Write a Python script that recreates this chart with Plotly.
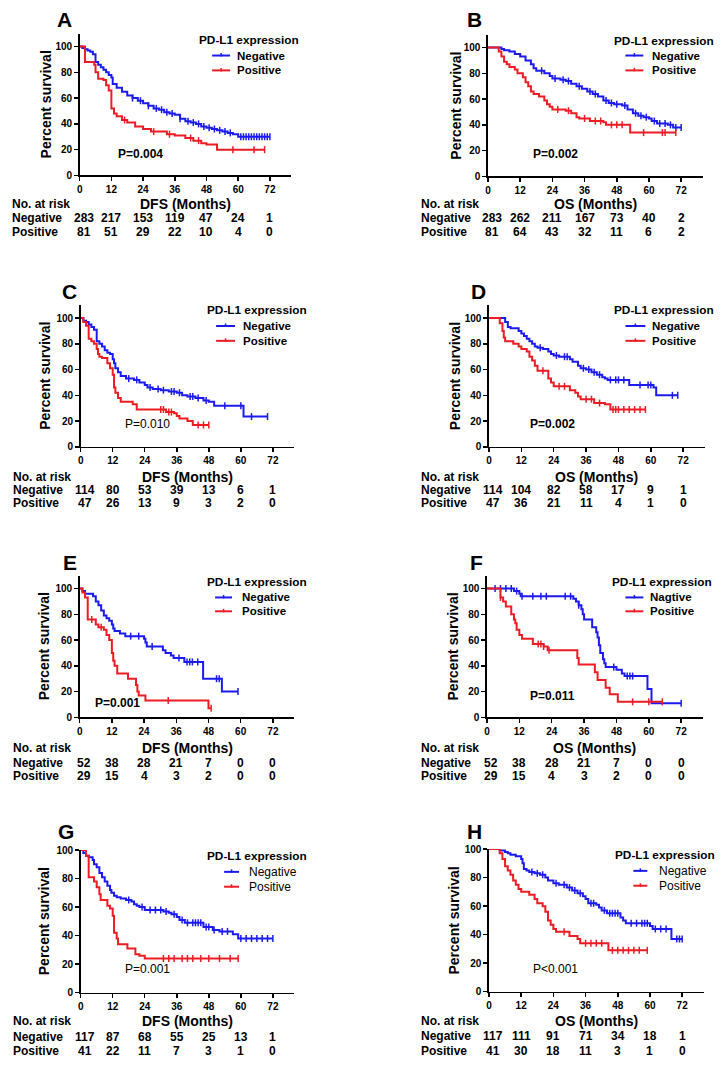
import plotly.graph_objects as go

W, H = 723, 1074
FONT = "Liberation Sans, Arial, Helvetica, sans-serif"
BLUE = "#1b1bf0"
RED = "#ec1c24"

# ---------------- DATA ----------------
months = [0, 12, 24, 36, 48, 60, 72]
pct_ticks = [0, 20, 40, 60, 80, 100]

# Panel A (DFS)
A_neg_t = [0,1,2,3,4,5,6,7,8,9,10,11,12,12.5,14,16,18,20,22,24,26,28,30,32,34,36,38,40,42,44,46,48,50,52,54,56,58,60,72]
A_neg_s = [100,99,98,97,96,94,88,86,84,82,80,78,76,71,68,65,62,60,58,56,54,52,51,49,48,47,44,42,41,40,38,37,36,35,34,33,32,30,30]
A_neg_c = [20,23,26,29,31,33,35,38,41,43,45,47,49,51,53,55,57,61,62,63,64,65,66,67,68,69,70,71,72]
A_pos_t = [0,2,5.5,6,7,9,10,11,12,13,14,16,18,21,24,27,33,36,40,43,46,48,52,70]
A_pos_s = [100,88,86,80,75,74,70,66,52,48,46,43,41,38,36,34,32,31,29,27,25,24,20,20]
A_pos_c = [17,28,34,42,45,58,66,70]
A_risk_neg = [283,217,153,119,47,24,1]
A_risk_pos = [81,51,29,22,10,4,0]

# Panel B (OS)
B_neg_t = [0,5,6,8,10,12,14,16,17,18,21,23,24,27,29,31,33,35,37,39,41,43,45,47,50,52,54,56,58,60,61,63,67,69,72]
B_neg_s = [100,99,98,97,95,93,90,87,84,82,80,78,76,75,74,72,70,68,66,64,62,59,57,56,55,52,49,47,46,45,43,41,40,38,38]
B_neg_c = [20,25,28,30,34,38,40,44,46,48,51,55,57,59,62,64,66,68,70,72]
B_pos_t = [0,4,5,6,7,8,10,11,13,14,15,16,17,19,21,22,23,24,29,31,33,34,38,43,44,53,70]
B_pos_s = [100,97,93,89,87,85,83,80,77,73,70,66,64,62,59,56,54,52,51,49,46,45,43,42,40,34,34]
B_pos_c = [26,30,36,40,42,46,48,50,58,65,66,70]
B_risk_neg = [283,262,211,167,73,40,2]
B_risk_pos = [81,64,43,32,11,6,2]

# Panel C (DFS)
C_neg_t = [0,1,2,3,4,5,6,7,8,9,10,11,12,12.5,13,14,15,17,20,22,24,25,27,30,33,36,38,40,43,46,48,50,61,70]
C_neg_s = [100,98,97,95,93,91,82,80,78,75,73,72,68,65,61,58,55,53,52,50,48,46,45,44,43,42,40,39,38,36,35,32,23.5,23.5]
C_neg_c = [18,21,26,29,31,34,35,37,41,42,44,47,54,60,64,70]
C_pos_t = [0,1,2,3,4,5,6,6.5,7,8,10,11,12,12.5,13,14,15,19.5,21,32,35,36,37,40,42,48]
C_pos_s = [100,97,94,84,82,80,76,72,70,69,65,61,56,46,42,38,35,33,29,27,26,24,22,20,17,17]
C_pos_c = [30,31,33,34,44,46,48]
C_risk_neg = [114,80,53,39,13,6,1]
C_risk_pos = [47,26,13,9,3,2,0]

# Panel D (OS)
D_neg_t = [0,6,7,8,11,12,13,14,15,16,17,18,20,22,23,24,26,30,31,33,34,36,38,40,42,43,44,52,61,62,70]
D_neg_s = [100,97,93,92,90,88,86,84,82,80,78,77,76,74,72,71,70,68,66,63,61,60,58,56,54,53,52,48,46,40,40]
D_neg_c = [19,25,28,29,35,37,39,41,45,47,48,50,56,59,60,68,70]
D_pos_t = [0,4,5,5.5,6,9,11,12,14,15,16,17,18,22,23,24,30,32,33,34,39,43,45,58]
D_pos_s = [100,96,90,85,82,80,78,76,74,70,67,63,59,53,50,47,44,42,39,37,34,33,29,29]
D_pos_c = [20,26,28,36,38,41,46,47,48,50,52,54,56,58]
D_risk_neg = [114,104,82,58,17,9,1]
D_risk_pos = [47,36,21,11,4,1,0]

# Panel E (DFS)
E_neg_t = [0,1,2,5,6,7,8,9,10,11,12,12.5,13,15,17,24,24.5,25,31,32,34,35,39,46,53,59]
E_neg_s = [100,98,96,94,90,87,83,79,77,75,72,69,67,65,63,61,58,55,52,50,48,46,43,30,20,20]
E_neg_c = [19,22,27,37,40,41,42,44,51,52,59]
E_pos_t = [0,1,2,3,6,7,9,10,11,12,12.5,13,14,18,21,21.5,22,24.5,48,49]
E_pos_s = [100,97,93,76,72,70,68,64,60,50,44,40,34,30,25,20,17,13,7,7]
E_pos_c = [4.5,8,33,49]
E_risk_neg = [52,38,28,21,7,0,0]
E_risk_pos = [29,15,4,3,2,0,0]

# Panel F (OS)
F_neg_t = [0,10,12,12.5,32,33,34,35,35.5,36,39,40.5,41,41.5,42,43,43.5,44,48,50,51,59.5,61,72]
F_neg_s = [100,98,96,94,92,90,87,84,80,76,70,66,62,56,50,45,42,39,37,34,32,22,11,11]
F_neg_c = [3,5,7,9,11,13,17,20,22,29,31,34,47,52,53,54,72]
F_pos_t = [0,5,6,7,9,10,10.5,11,12,13,17,21,22.5,33.5,34,40,41,44,45.5,48.5,65]
F_pos_s = [100,93,90,86,80,76,73,68,64,61,57,55,52,46,41,35,29,23,18,12,12]
F_pos_c = [5,19,20,21,23,54,60,65]
F_risk_neg = [52,38,28,21,7,0,0]
F_risk_pos = [29,15,4,3,2,0,0]

# Panel G (DFS)
G_neg_t = [0,1,2,3,4.5,5,6,7,8,9,10,11,11.5,12.5,13.5,15,17,19,20,21,22,24,31,33,34,36,37,39,46,49.5,52,57,59,72]
G_neg_s = [100,98,96,95,93,90,88,84,81,78,75,72,70,68,67,66,65,64,62,61,60,58,57,56,55,53,51,49,46,44,43,41,38,38]
G_neg_c = [18,23,26,28,30,32,35,38,40,42,43,44,45,47,48,50,53,55,60,62,64,66,68,70,72]
G_pos_t = [0,2,3,5,6,7,7.5,10,11,12,12.5,13.5,14,17.5,20.5,22,24,59]
G_pos_s = [100,96,81,78,74,69,65,61,59,54,42,38,34,31,27,26,24,24]
G_pos_c = [31,33,35,38,40,42,45,48,52,56,59]
G_risk_neg = [117,87,68,55,25,13,1]
G_risk_pos = [41,22,11,7,3,1,0]

# Panel H (OS)
H_neg_t = [0,4,6,7,8,10,12,12.5,13,14,15,17,19,21,22,24,26,29,31,33,35,36,37,40,41,42,44,49,50,51,60,61,68,72]
H_neg_s = [100,99,98,97,96,95,93,90,86,85,84,83,82,80,78,76,75,73,71,69,67,65,62,61,59,57,55,52,50,48,46,44,37,37]
H_neg_c = [16,18,20,25,28,30,32,34,38,39,43,45,46,47,48,53,55,57,58,59,62,64,66,70,71,72]
H_pos_t = [0,4,5,6,7,8,9,10,11,12,15,17,18,20,21,22,23,24,25,30,33,34,44.5,59]
H_pos_s = [100,97,93,88,85,82,78,75,72,70,68,65,62,60,56,50,47,44,42,39,37,34,29,29]
H_pos_c = [28,36,38,40,42,46,48,50,52,54,56,59]
H_risk_neg = [117,111,91,71,34,18,1]
H_risk_pos = [41,30,18,11,3,1,0]

letters = ["A", "B", "C", "D", "E", "F", "G", "H"]
x_titles = ["DFS (Months)", "OS (Months)"] * 4
p_texts = ["P=0.004", "P=0.002", "P=0.010", "P=0.002", "P=0.001", "P=0.011", "P=0.001", "P<0.001"]
legend_title = "PD-L1 expression"
legend_labels = [["Negative", "Positive"]] * 5 + [["Nagtive", "Positive"]] + [["Negative", "Positive"]] * 2
risk_title = "No. at risk"
risk_rows = ["Negative", "Positive"]
y_title = "Percent survival"

curves = {
    "A": (A_neg_t, A_neg_s, A_neg_c, A_pos_t, A_pos_s, A_pos_c, A_risk_neg, A_risk_pos),
    "B": (B_neg_t, B_neg_s, B_neg_c, B_pos_t, B_pos_s, B_pos_c, B_risk_neg, B_risk_pos),
    "C": (C_neg_t, C_neg_s, C_neg_c, C_pos_t, C_pos_s, C_pos_c, C_risk_neg, C_risk_pos),
    "D": (D_neg_t, D_neg_s, D_neg_c, D_pos_t, D_pos_s, D_pos_c, D_risk_neg, D_risk_pos),
    "E": (E_neg_t, E_neg_s, E_neg_c, E_pos_t, E_pos_s, E_pos_c, E_risk_neg, E_risk_pos),
    "F": (F_neg_t, F_neg_s, F_neg_c, F_pos_t, F_pos_s, F_pos_c, F_risk_neg, F_risk_pos),
    "G": (G_neg_t, G_neg_s, G_neg_c, G_pos_t, G_pos_s, G_pos_c, G_risk_neg, G_risk_pos),
    "H": (H_neg_t, H_neg_s, H_neg_c, H_pos_t, H_pos_s, H_pos_c, H_risk_neg, H_risk_pos),
}

# ---------------- LAYOUT GEOMETRY (pixels) ----------------
geo = {
    "A": dict(x0=77, x72=268, y0=172, y100=42, ymax=110, letter=(62, 15), leg=(195, 35), line=(210, 228), txt=233,
              rows=(51, 66), p=(113, 150), ytx=43, rx=7, ry=(201, 215, 229), legbold=True, pbold=True),
    "B": dict(x0=487, x72=681, y0=173, y100=43, ymax=110, letter=(473, 15), leg=(612, 36), line=(625, 643), txt=650,
              rows=(51, 66), p=(530, 150), ytx=454, rx=418, ry=(201, 215, 229), legbold=True, pbold=True),
    "C": dict(x0=78, x72=271, y0=446, y100=316, ymax=110, letter=(67, 289), leg=(203, 308), line=(214, 233), txt=239,
              rows=(324, 339), p=(120, 423), ytx=42, rx=8, ry=(476, 490, 503), legbold=True, pbold=False),
    "D": dict(x0=488, x72=683, y0=446, y100=316, ymax=110, letter=(477, 289), leg=(612, 308), line=(625, 645), txt=650,
              rows=(324, 339), p=(527, 423), ytx=454, rx=418, ry=(476, 490, 503), legbold=True, pbold=True),
    "E": dict(x0=77, x72=271, y0=719, y100=589, ymax=110, letter=(67, 563), leg=(203, 582), line=(213, 230), txt=238,
              rows=(598, 612), p=(90, 705), ytx=42, rx=8, ry=(750, 765, 778), legbold=True, pbold=True),
    "F": dict(x0=486, x72=681, y0=719, y100=589, ymax=110, letter=(475, 563), leg=(610, 582), line=(625, 643), txt=648,
              rows=(598, 612), p=(527, 697), ytx=452, rx=418, ry=(750, 765, 778), legbold=True, pbold=True),
    "G": dict(x0=78, x72=271, y0=997, y100=853, ymax=100, letter=(63, 834), leg=(203, 859), line=(222, 237), txt=245,
              rows=(875, 890), p=(120, 973), ytx=42, rx=8, ry=(1026, 1042, 1056), legbold=False, pbold=False),
    "H": dict(x0=488, x72=682, y0=996, y100=852, ymax=100, letter=(473, 834), leg=(613, 858), line=(633, 647), txt=657,
              rows=(874, 889), p=(530, 973), ytx=453, rx=418, ry=(1026, 1041, 1056), legbold=False, pbold=False),
}
XMAX = 80


def px(x):
    return x / W


def py(y):
    return 1 - y / H


def surv_at(t, ts, ss):
    v = ss[0]
    for ti, si in zip(ts, ss):
        if ti <= t:
            v = si
        else:
            break
    return v


fig = go.Figure()
annotations = []
shapes = []
layout_axes = {}

for i, key in enumerate(letters):
    n = i + 1
    g = geo[key]
    xa = "x" if n == 1 else f"x{n}"
    ya = "y" if n == 1 else f"y{n}"
    neg_t, neg_s, neg_c, pos_t, pos_s, pos_c, rneg, rpos = curves[key]

    ppm = (g["x72"] - g["x0"]) / 72.0
    ppp = (g["y0"] - g["y100"]) / 100.0
    xd = [px(g["x0"]), px(g["x0"] + ppm * XMAX)]
    yd = [py(g["y0"]), py(g["y0"] - ppp * g["ymax"])]

    for ts, ss, cs, col in [(neg_t, neg_s, neg_c, BLUE), (pos_t, pos_s, pos_c, RED)]:
        fig.add_trace(go.Scatter(x=ts, y=ss, mode="lines", line=dict(color=col, width=2, shape="hv"),
                                 xaxis=xa, yaxis=ya, showlegend=False, cliponaxis=False, hoverinfo="skip"))
        fig.add_trace(go.Scatter(x=cs, y=[surv_at(c, ts, ss) for c in cs], mode="markers",
                                 marker=dict(symbol="line-ns", size=5, line=dict(color=col, width=1.5)),
                                 xaxis=xa, yaxis=ya, showlegend=False, cliponaxis=False, hoverinfo="skip"))

    axkw = dict(showgrid=False, zeroline=False, showline=True, linecolor="black", linewidth=1.6,
                ticks="outside", ticklen=4, tickwidth=1.5, tickcolor="black",
                tickfont=dict(family=FONT, size=10, color="black", weight="bold"), fixedrange=True)
    layout_axes["xaxis" if n == 1 else f"xaxis{n}"] = dict(domain=xd, range=[0, XMAX], tickvals=months,
                                                           anchor=ya, **axkw)
    layout_axes["yaxis" if n == 1 else f"yaxis{n}"] = dict(domain=yd, range=[0, g["ymax"]], tickvals=pct_ticks,
                                                           anchor=xa, **axkw)

    def ann(text, x, y, size, bold=True, xanchor="left", xref="paper", angle=0, xshift=0):
        annotations.append(dict(text=text, x=x, y=y, xref=xref, yref="paper", xanchor=xanchor, yanchor="middle",
                                showarrow=False, textangle=angle, xshift=xshift,
                                font=dict(family=FONT, size=size, color="black",
                                          weight="bold" if bold else "normal")))

    # panel letter
    ann(key, px(g["letter"][0]), py(g["letter"][1]), 21, xanchor="center")
    # legend
    ann(legend_title, px(g["leg"][0]), py(g["leg"][1]), 11.8)
    for lab, ry_, col in zip(legend_labels[i], g["rows"], [BLUE, RED]):
        shapes.append(dict(type="line", xref="paper", yref="paper", x0=px(g["line"][0]), x1=px(g["line"][1]),
                           y0=py(ry_), y1=py(ry_), line=dict(color=col, width=2)))
        mid = (g["line"][0] + g["line"][1]) / 2
        shapes.append(dict(type="line", xref="paper", yref="paper", x0=px(mid), x1=px(mid),
                           y0=py(ry_ - 2.5), y1=py(ry_ + 1), line=dict(color=col, width=1.5)))
        if g["legbold"]:
            ann(lab, px(g["txt"]), py(ry_), 11.5)
        else:
            ann(lab, px(g["txt"]), py(ry_), 12, bold=False)
    # p value
    ann(p_texts[i], px(g["p"][0]), py(g["p"][1]), 12, bold=g["pbold"])
    # axis titles (x title sits on the "No. at risk" line)
    ann(x_titles[i], (xd[0] + xd[1]) / 2, py(g["ry"][0]), 14, xanchor="center")
    ann(y_title, px(g["ytx"]), (yd[0] + yd[1]) / 2, 14, xanchor="center", angle=-90)
    # risk table
    ann(risk_title, px(g["rx"]), py(g["ry"][0]), 12)
    ann(risk_rows[0], px(g["rx"]), py(g["ry"][1]), 12)
    ann(risk_rows[1], px(g["rx"]), py(g["ry"][2]), 12)
    for m, vn, vp in zip(months, rneg, rpos):
        sh = 4 if m == 0 else 0
        ann(str(vn), m, py(g["ry"][1]), 12, xanchor="center", xref=xa, xshift=sh)
        ann(str(vp), m, py(g["ry"][2]), 12, xanchor="center", xref=xa, xshift=sh)

fig.update_layout(width=W, height=H, margin=dict(l=0, r=0, t=0, b=0), paper_bgcolor="white",
                  plot_bgcolor="white", showlegend=False, annotations=annotations, shapes=shapes,
                  font=dict(family=FONT, color="black"), **layout_axes)

fig.write_html(
    "out.html",
    config={"displayModeBar": False, "staticPlot": True},
    post_script="document.body.style.margin='0';document.body.style.padding='0';"
                "document.documentElement.style.overflow='hidden';",
)
